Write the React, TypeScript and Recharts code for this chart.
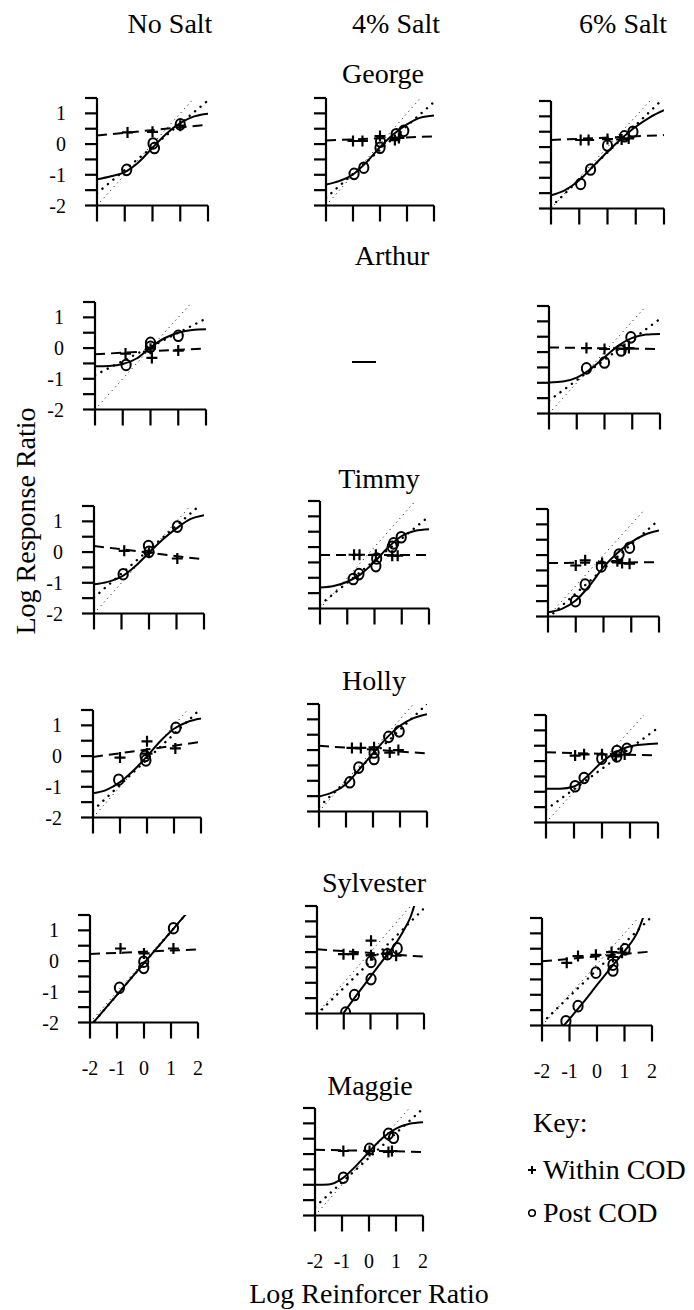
import { Scatter, ScatterChart, XAxis, YAxis } from 'recharts'

type Pt = [number, number]

const FONT = "'Liberation Serif', 'Times New Roman', Times, serif"

const X_TICKS = [-2, -1, 0, 1, 2]
const Y_TICKS = [-2, -1.5, -1, -0.5, 0, 0.5, 1, 1.5]
const IDENTITY: Pt[] = [[-2, -2], [1.5, 1.5]]

// George
const georgeNoWithin: Pt[] = [[-0.9, 0.38], [0, 0.4], [1, 0.6]]
const georgeNoPost: Pt[] = [[-0.93, -0.84], [0.02, 0.02], [0.07, -0.13], [1, 0.64]]
const georgeNoFit: Pt[] = [[-2, -1.15], [-1.5, -1.05], [-1, -0.91], [-0.5, -0.59], [0, -0.12], [0.5, 0.34], [1, 0.68], [1.5, 0.9], [2, 0.99]]
const georgeNoWithinLine: Pt[] = [[-2, 0.28], [2, 0.63]]
const georgeNoPostLine: Pt[] = [[-2, -1.6], [2, 1.42]]

const george4Within: Pt[] = [[-1, 0.1], [-0.65, 0.1], [0, 0.26], [0.55, 0.13], [0.7, 0.2]]
const george4Post: Pt[] = [[-0.96, -0.97], [-0.6, -0.77], [0, -0.12], [0.02, 0.08], [0.6, 0.32], [0.88, 0.43]]
const george4Fit: Pt[] = [[-2, -1.32], [-1.5, -1.2], [-1, -0.99], [-0.5, -0.59], [0, -0.1], [0.5, 0.32], [1, 0.64], [1.5, 0.86], [2, 0.93]]
const george4WithinLine: Pt[] = [[-2, 0.12], [2, 0.25]]
const george4PostLine: Pt[] = [[-2, -1.75], [2, 1.37]]

const george6Within: Pt[] = [[-0.95, 0.23], [-0.67, 0.23], [0, 0.26], [0.5, 0.25], [0.75, 0.28]]
const george6Post: Pt[] = [[-0.95, -1.2], [-0.6, -0.73], [0, 0.05], [0.6, 0.35], [0.9, 0.5]]
const george6Fit: Pt[] = [[-2, -1.57], [-1.5, -1.4], [-1, -1.08], [-0.5, -0.62], [0, -0.15], [0.5, 0.28], [1, 0.66], [1.5, 0.97], [2, 1.2]]
const george6WithinLine: Pt[] = [[-2, 0.23], [2, 0.39]]
const george6PostLine: Pt[] = [[-2, -1.95], [2, 1.6]]

// Arthur (no 4% condition)
const arthurNoWithin: Pt[] = [[-0.9, -0.18], [0, -0.02], [0.05, -0.32], [1, -0.08]]
const arthurNoPost: Pt[] = [[-0.88, -0.55], [0, 0.17], [0, 0.04], [1, 0.4]]
const arthurNoFit: Pt[] = [[-2, -0.59], [-1.5, -0.58], [-1, -0.52], [-0.5, -0.34], [0, 0.02], [0.5, 0.32], [1, 0.5], [1.5, 0.59], [2, 0.61]]
const arthurNoWithinLine: Pt[] = [[-2, -0.2], [2, -0.01]]
const arthurNoPostLine: Pt[] = [[-2, -0.88], [2, 0.96]]

const arthur6Within: Pt[] = [[-0.65, 0.13], [0, 0.1], [0.72, 0.1], [0.88, 0.13]]
const arthur6Post: Pt[] = [[-0.65, -0.53], [0, -0.34], [0.6, 0.05], [0.95, 0.48]]
const arthur6Fit: Pt[] = [[-2, -0.99], [-1.5, -0.96], [-1, -0.83], [-0.5, -0.55], [0, -0.17], [0.5, 0.21], [1, 0.46], [1.5, 0.57], [2, 0.59]]
const arthur6WithinLine: Pt[] = [[-2, 0.15], [2, 0.1]]
const arthur6PostLine: Pt[] = [[-2, -1.58], [2, 1.08]]

// Timmy
const timmyNoWithin: Pt[] = [[-0.9, 0.04], [0, -0.02], [1.03, -0.21]]
const timmyNoPost: Pt[] = [[-0.94, -0.72], [-0.02, 0.2], [0, 0.01], [1.03, 0.83]]
const timmyNoFit: Pt[] = [[-2, -1.05], [-1.5, -0.97], [-1, -0.8], [-0.5, -0.46], [0, -0.02], [0.5, 0.41], [1, 0.77], [1.5, 1.07], [2, 1.2]]
const timmyNoWithinLine: Pt[] = [[-2, 0.2], [2, -0.24]]
const timmyNoPostLine: Pt[] = [[-2, -1.48], [2, 1.64]]

const timmy4Within: Pt[] = [[-0.75, -0.25], [-0.55, -0.25], [0.05, -0.25], [0.65, -0.28], [0.85, -0.28]]
const timmy4Post: Pt[] = [[-0.78, -1.04], [-0.57, -0.88], [0.05, -0.62], [0.08, -0.37], [0.65, 0.01], [0.7, 0.12], [0.98, 0.32]]
const timmy4Fit: Pt[] = [[-2, -1.32], [-1.5, -1.27], [-1, -1.13], [-0.5, -0.88], [0, -0.48], [0.5, -0.01], [1, 0.36], [1.5, 0.53], [2, 0.58]]
const timmy4WithinLine: Pt[] = [[-2, -0.26], [2, -0.26]]
const timmy4PostLine: Pt[] = [[-2, -1.88], [2, 1.0]]

const timmy6Within: Pt[] = [[-1, -0.34], [-0.66, -0.17], [-0.05, -0.26], [0.5, -0.2], [0.67, -0.26], [0.94, -0.28]]
const timmy6Post: Pt[] = [[-1.01, -1.5], [-0.66, -0.96], [-0.08, -0.37], [0.56, 0.02], [0.94, 0.24]]
const timmy6Fit: Pt[] = [[-2, -1.86], [-1.5, -1.75], [-1, -1.48], [-0.5, -0.99], [0, -0.39], [0.5, 0.07], [1, 0.42], [1.5, 0.67], [2, 0.8]]
const timmy6WithinLine: Pt[] = [[-2, -0.26], [2, -0.23]]
const timmy6PostLine: Pt[] = [[-2, -2.05], [2, 1.15]]

// Holly
const hollyNoWithin: Pt[] = [[-1, -0.05], [0, 0.48], [0, 0.08], [1.05, 0.25]]
const hollyNoPost: Pt[] = [[-1.05, -0.77], [-0.07, 0], [-0.04, -0.14], [1.07, 0.92]]
const hollyNoFit: Pt[] = [[-2, -1.21], [-1.5, -1.1], [-1, -0.85], [-0.5, -0.47], [0, -0.01], [0.5, 0.49], [1, 0.89], [1.5, 1.11], [2, 1.22]]
const hollyNoWithinLine: Pt[] = [[-2, -0.03], [2, 0.46]]
const hollyNoPostLine: Pt[] = [[-2, -1.77], [2, 1.55]]

const holly4Within: Pt[] = [[-0.78, 0.07], [-0.45, 0.07], [0.04, 0.09], [0.62, -0.08], [0.94, 0]]
const holly4Post: Pt[] = [[-0.86, -1.05], [-0.53, -0.57], [0.04, -0.29], [0.04, -0.08], [0.58, 0.43], [0.97, 0.61]]
const holly4Fit: Pt[] = [[-2, -1.51], [-1.5, -1.38], [-1, -1.11], [-0.5, -0.62], [0, -0.11], [0.5, 0.39], [1, 0.79], [1.5, 1.04], [2, 1.17]]
const holly4WithinLine: Pt[] = [[-2, 0.14], [2, -0.11]]
const holly4PostLine: Pt[] = [[-2, -1.85], [2, 1.5]]

const holly6Within: Pt[] = [[-0.96, 0.18], [-0.64, 0.22], [0, 0.22], [0.5, 0.15], [0.81, 0.21]]
const holly6Post: Pt[] = [[-0.96, -0.82], [-0.64, -0.55], [-0.01, 0.08], [0.53, 0.15], [0.53, 0.33], [0.89, 0.4]]
const holly6Fit: Pt[] = [[-2, -0.9], [-1.5, -0.9], [-1, -0.83], [-0.5, -0.47], [0, -0.03], [0.5, 0.29], [1, 0.48], [1.5, 0.54], [2, 0.57]]
const holly6WithinLine: Pt[] = [[-2, 0.29], [2, 0.18]]
const holly6PostLine: Pt[] = [[-2, -1.58], [2, 1.08]]

// Sylvester
const sylvesterNoWithin: Pt[] = [[-0.87, 0.41], [0, 0.25], [1.09, 0.41]]
const sylvesterNoPost: Pt[] = [[-0.91, -0.87], [-0.01, -0.02], [-0.01, -0.22], [1.09, 1.07]]
const sylvesterNoFit: Pt[] = [[-2, -2.13], [-1, -1.1], [0, -0.07], [1, 0.96], [2, 1.99]]
const sylvesterNoWithinLine: Pt[] = [[-2, 0.23], [2, 0.38]]
const sylvesterNoPostLine: Pt[] = [[-2, -2.13], [2, 1.99]]

const sylvester4Within: Pt[] = [[-1.01, -0.07], [-0.65, -0.07], [0.02, 0.37], [0.02, -0.1], [0.63, -0.04], [0.96, -0.12]]
const sylvester4Post: Pt[] = [[-0.93, -1.97], [-0.6, -1.4], [0.02, -0.88], [0.02, -0.32], [0.63, -0.07], [1, 0.12]]
const sylvester4Fit: Pt[] = [[-1.1, -2.1], [-0.5, -1.38], [0, -0.8], [0.5, -0.22], [1, 0.35], [1.25, 0.72], [1.5, 1.15], [1.7, 1.7]]
const sylvester4WithinLine: Pt[] = [[-2, 0.09], [2, -0.15]]
const sylvester4PostLine: Pt[] = [[-2, -2.03], [2, 1.42]]

const sylvester6Within: Pt[] = [[-1.1, 0.04], [-0.69, 0.26], [-0.04, 0.3], [0.53, 0.39], [0.58, 0.23], [0.91, 0.37]]
const sylvester6Post: Pt[] = [[-1.13, -1.86], [-0.69, -1.37], [-0.04, -0.28], [0.58, -0.21], [0.58, -0.02], [1.02, 0.48]]
const sylvester6Fit: Pt[] = [[-1.3, -2.1], [-0.5, -1.25], [0, -0.68], [0.5, -0.12], [1, 0.42], [1.5, 1.1], [1.75, 1.7]]
const sylvester6WithinLine: Pt[] = [[-2, 0.09], [2, 0.41]]
const sylvester6PostLine: Pt[] = [[-2, -1.92], [2, 1.55]]

// Maggie (4% only)
const maggie4Within: Pt[] = [[-0.95, 0.1], [0.02, 0.1], [0.72, 0.07], [0.85, 0.1]]
const maggie4Post: Pt[] = [[-0.95, -0.77], [0.02, 0.17], [0.72, 0.66], [0.91, 0.53]]
const maggie4Fit: Pt[] = [[-2, -1], [-1.5, -0.99], [-1, -0.8], [-0.5, -0.4], [0, 0.07], [0.5, 0.52], [1, 0.83], [1.5, 0.99], [2, 1.04]]
const maggie4WithinLine: Pt[] = [[-2, 0.14], [2, 0.07]]
const maggie4PostLine: Pt[] = [[-2, -1.72], [2, 1.48]]

interface PanelDef {
  left: number
  right: number
  bottom: number
  within: Pt[]
  post: Pt[]
  fit: Pt[]
  withinLine: Pt[]
  postLine: Pt[]
  yLabels?: boolean
  xLabels?: boolean
}

const PANELS: PanelDef[] = [
  { left: 97, right: 208, bottom: 205, within: georgeNoWithin, post: georgeNoPost, fit: georgeNoFit, withinLine: georgeNoWithinLine, postLine: georgeNoPostLine, yLabels: true },
  { left: 326, right: 434, bottom: 205, within: george4Within, post: george4Post, fit: george4Fit, withinLine: george4WithinLine, postLine: george4PostLine },
  { left: 551, right: 664, bottom: 208, within: george6Within, post: george6Post, fit: george6Fit, withinLine: george6WithinLine, postLine: george6PostLine },
  { left: 95, right: 206, bottom: 409, within: arthurNoWithin, post: arthurNoPost, fit: arthurNoFit, withinLine: arthurNoWithinLine, postLine: arthurNoPostLine, yLabels: true },
  { left: 549, right: 660, bottom: 413, within: arthur6Within, post: arthur6Post, fit: arthur6Fit, withinLine: arthur6WithinLine, postLine: arthur6PostLine },
  { left: 94, right: 204, bottom: 613, within: timmyNoWithin, post: timmyNoPost, fit: timmyNoFit, withinLine: timmyNoWithinLine, postLine: timmyNoPostLine, yLabels: true },
  { left: 320, right: 429, bottom: 608, within: timmy4Within, post: timmy4Post, fit: timmy4Fit, withinLine: timmy4WithinLine, postLine: timmy4PostLine },
  { left: 548, right: 659, bottom: 616, within: timmy6Within, post: timmy6Post, fit: timmy6Fit, withinLine: timmy6WithinLine, postLine: timmy6PostLine },
  { left: 93, right: 201, bottom: 817, within: hollyNoWithin, post: hollyNoPost, fit: hollyNoFit, withinLine: hollyNoWithinLine, postLine: hollyNoPostLine, yLabels: true },
  { left: 319, right: 427, bottom: 811, within: holly4Within, post: holly4Post, fit: holly4Fit, withinLine: holly4WithinLine, postLine: holly4PostLine },
  { left: 546, right: 658, bottom: 822, within: holly6Within, post: holly6Post, fit: holly6Fit, withinLine: holly6WithinLine, postLine: holly6PostLine },
  { left: 90, right: 198, bottom: 1022, within: sylvesterNoWithin, post: sylvesterNoPost, fit: sylvesterNoFit, withinLine: sylvesterNoWithinLine, postLine: sylvesterNoPostLine, yLabels: true, xLabels: true },
  { left: 317, right: 424, bottom: 1013, within: sylvester4Within, post: sylvester4Post, fit: sylvester4Fit, withinLine: sylvester4WithinLine, postLine: sylvester4PostLine },
  { left: 542, right: 652, bottom: 1025, within: sylvester6Within, post: sylvester6Post, fit: sylvester6Fit, withinLine: sylvester6WithinLine, postLine: sylvester6PostLine, xLabels: true },
  { left: 315, right: 423, bottom: 1215, within: maggie4Within, post: maggie4Post, fit: maggie4Fit, withinLine: maggie4WithinLine, postLine: maggie4PostLine, xLabels: true },
]

const YW = 60
const PT = 10
const PR = 12
const XH = 60
const PH = 107.5

const AXIS = { stroke: '#000', strokeWidth: 2.2 }
const TICK_TEXT = { fill: '#000', fontSize: 20, fontFamily: FONT }

const toXY = (pts: Pt[]) => pts.map(([x, y]) => ({ x, y }))

function CrossMark(props: any) {
  const { cx, cy } = props
  if (cx == null || cy == null) return <g />
  return (
    <path
      d={`M${cx - 5.5},${cy}H${cx + 5.5}M${cx},${cy - 5.5}V${cy + 5.5}`}
      stroke="#000"
      strokeWidth={2.2}
      fill="none"
    />
  )
}

function CircleMark(props: any) {
  const { cx, cy } = props
  if (cx == null || cy == null) return <g />
  return <ellipse cx={cx} cy={cy} rx={4.6} ry={5.3} fill="none" stroke="#000" strokeWidth={2} />
}

const NoMark = () => <g />

function Panel({ p }: { p: PanelDef }) {
  const pw = p.right - p.left
  return (
    <div style={{ position: 'absolute', left: p.left - YW, top: p.bottom - PH - PT }}>
      <ScatterChart
        width={pw + YW + PR}
        height={PH + PT + XH}
        margin={{ top: PT, right: PR, bottom: 0, left: 0 }}
      >
        <XAxis
          type="number"
          dataKey="x"
          domain={[-2, 2]}
          ticks={X_TICKS}
          interval={0}
          allowDataOverflow
          height={XH}
          tickSize={16}
          tickMargin={22}
          axisLine={AXIS}
          tickLine={AXIS}
          tick={TICK_TEXT}
          tickFormatter={v => (p.xLabels ? String(v) : '')}
        />
        <YAxis
          type="number"
          dataKey="y"
          domain={[-2, 1.5]}
          ticks={Y_TICKS}
          interval={0}
          allowDataOverflow
          width={YW}
          tickSize={12}
          tickMargin={19}
          axisLine={AXIS}
          tickLine={AXIS}
          tick={TICK_TEXT}
          tickFormatter={v => (p.yLabels && Number.isInteger(v) && v < 1.5 ? String(v) : '')}
        />
        <Scatter
          data={toXY(IDENTITY)}
          shape={NoMark}
          line={{ stroke: '#000', strokeWidth: 1, strokeDasharray: '1 4' }}
          isAnimationActive={false}
        />
        <Scatter
          data={toXY(p.postLine)}
          shape={NoMark}
          line={{ stroke: '#000', strokeWidth: 2.4, strokeDasharray: '0.1 7', strokeLinecap: 'round' }}
          isAnimationActive={false}
        />
        <Scatter
          data={toXY(p.withinLine)}
          shape={NoMark}
          line={{ stroke: '#000', strokeWidth: 2, strokeDasharray: '10 6' }}
          isAnimationActive={false}
        />
        <Scatter
          data={toXY(p.fit)}
          shape={NoMark}
          line={{ stroke: '#000', strokeWidth: 2 }}
          lineJointType="monotoneX"
          isAnimationActive={false}
        />
        <Scatter data={toXY(p.post)} shape={CircleMark} isAnimationActive={false} />
        <Scatter data={toXY(p.within)} shape={CrossMark} isAnimationActive={false} />
      </ScatterChart>
    </div>
  )
}

function Label({ x, y, size = 28, children }: { x: number; y: number; size?: number; children: any }) {
  return (
    <div
      style={{
        position: 'absolute',
        left: x,
        top: y,
        transform: 'translate(-50%, -50%)',
        fontFamily: FONT,
        fontSize: size,
        lineHeight: 1,
        whiteSpace: 'nowrap',
        color: '#000',
      }}
    >
      {children}
    </div>
  )
}

export default function App() {
  return (
    <div style={{ position: 'relative', width: 694, height: 1310, background: '#fff', overflow: 'hidden', fontFamily: FONT }}>
      <style>{'body{margin:0;background:#fff}'}</style>

      <Label x={170} y={24}>No Salt</Label>
      <Label x={396} y={24}>4% Salt</Label>
      <Label x={623} y={24}>6% Salt</Label>

      <Label x={383} y={74}>George</Label>
      <Label x={392} y={256}>Arthur</Label>
      <Label x={379} y={479}>Timmy</Label>
      <Label x={374} y={681}>Holly</Label>
      <Label x={374} y={883}>Sylvester</Label>
      <Label x={370} y={1086}>Maggie</Label>

      {PANELS.map((p, i) => (
        <Panel key={i} p={p} />
      ))}

      {/* Arthur has no 4% condition */}
      <div style={{ position: 'absolute', left: 352, top: 361, width: 24, height: 2, background: '#000' }} />

      <div
        style={{
          position: 'absolute',
          left: 26,
          top: 521,
          transform: 'translate(-50%, -50%) rotate(-90deg)',
          fontFamily: FONT,
          fontSize: 28,
          lineHeight: 1,
          whiteSpace: 'nowrap',
        }}
      >
        Log Response Ratio
      </div>
      <Label x={369} y={1294}>Log Reinforcer Ratio</Label>

      <div style={{ position: 'absolute', left: 533, top: 1109, fontFamily: FONT, fontSize: 28, lineHeight: 1 }}>Key:</div>
      <svg style={{ position: 'absolute', left: 526, top: 1164 }} width={12} height={12}>
        <path d="M2,6H10M6,2V10" stroke="#000" strokeWidth={2} />
      </svg>
      <div style={{ position: 'absolute', left: 543, top: 1156, fontFamily: FONT, fontSize: 28, lineHeight: 1, whiteSpace: 'nowrap' }}>
        Within COD
      </div>
      <svg style={{ position: 'absolute', left: 526, top: 1207 }} width={12} height={12}>
        <circle cx={6} cy={6} r={3.3} fill="none" stroke="#000" strokeWidth={1.6} />
      </svg>
      <div style={{ position: 'absolute', left: 543, top: 1199, fontFamily: FONT, fontSize: 28, lineHeight: 1, whiteSpace: 'nowrap' }}>
        Post COD
      </div>
    </div>
  )
}
